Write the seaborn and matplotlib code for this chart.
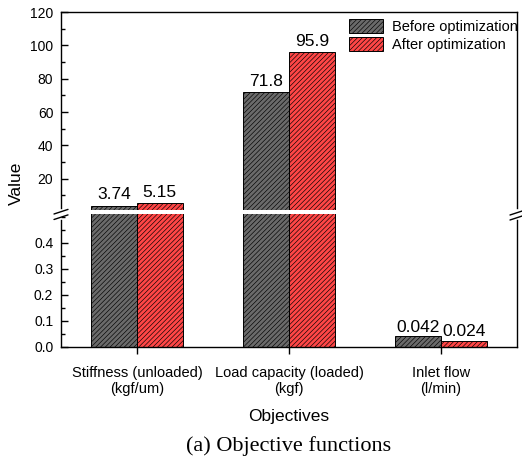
import numpy as np
import pandas as pd
import matplotlib
matplotlib.use("Agg")
import matplotlib.pyplot as plt
from matplotlib.lines import Line2D
from matplotlib.patches import Patch
from matplotlib.ticker import MultipleLocator, FormatStrFormatter
import seaborn as sns

# Data
objectives = ["Stiffness (unloaded)\n(kgf/um)", "Load capacity (loaded)\n(kgf)", "Inlet flow\n(l/min)"]
stages = ["Before optimization", "After optimization"]
before = [3.74, 71.8, 0.042]
after = [5.15, 95.9, 0.024]
colors = ["#6a6a6a", "#ff4646"]

df = pd.DataFrame({
    "Objective": objectives * 2,
    "Stage": [stages[0]] * len(objectives) + [stages[1]] * len(objectives),
    "Value": before + after,
})

sns.set_theme(style="ticks")
plt.rcParams["font.family"] = ["Liberation Sans", "DejaVu Sans"]
plt.rcParams["hatch.linewidth"] = 0.45
for key in ("text.color", "axes.labelcolor", "xtick.color", "ytick.color",
            "axes.edgecolor"):
    plt.rcParams[key] = "black"

HATCH = "///////"

W, H = 522, 462
fig = plt.figure(figsize=(W / 100, H / 100), dpi=100)


def box(l, t, r, b):
    return [l / W, 1 - b / H, (r - l) / W, (b - t) / H]


def fxy(x, y):
    return x / W, 1 - y / H


ax_top = fig.add_axes(box(61, 12, 517, 210))
ax_bot = fig.add_axes(box(61, 214, 517, 347))

for ax in (ax_top, ax_bot):
    sns.barplot(data=df, x="Objective", y="Value", hue="Stage", palette=colors,
                saturation=1, width=0.6, edgecolor="black", linewidth=0.7,
                legend=False, ax=ax)
    for p in ax.patches:
        p.set_hatch(HATCH)
    ax.set_xlim(-0.5, 2.5)
    ax.set_xlabel("")
    ax.set_ylabel("")
    for s in ax.spines.values():
        s.set_linewidth(1.0)
        s.set_color("black")
        s.set_visible(True)
    ax.tick_params(axis="y", which="major", direction="in", length=5, width=1,
                   labelsize=10, pad=5.5, colors="black")
    ax.tick_params(axis="y", which="minor", direction="in", length=3, width=1)
    ax.tick_params(axis="y", right=False)

# Upper segment
ax_top.set_ylim(1.2, 120)
ax_top.yaxis.set_major_locator(MultipleLocator(20))
ax_top.yaxis.set_minor_locator(MultipleLocator(10))
ax_top.spines["bottom"].set_visible(False)
ax_top.tick_params(axis="x", bottom=False, labelbottom=False)
ax_top.spines["left"].set_bounds(2.4, 120)
ax_top.spines["right"].set_bounds(2.4, 120)

# Lower segment
ax_bot.set_ylim(0, 0.51)
ax_bot.set_yticks(np.arange(0, 0.41, 0.1))
ax_bot.yaxis.set_minor_locator(MultipleLocator(0.05))
ax_bot.yaxis.set_major_formatter(FormatStrFormatter("%.1f"))
ax_bot.spines["top"].set_visible(False)
ax_bot.spines["left"].set_bounds(0, 0.487)
ax_bot.spines["right"].set_bounds(0, 0.487)
ax_bot.tick_params(axis="x", direction="out", length=5, width=1, labelsize=10.5,
                   pad=8.5, colors="black")

# Value labels
for cont, vals in zip(ax_top.containers, [before, after]):
    ax_top.bar_label(cont, labels=[f"{v:g}" if v > 1.2 else "" for v in vals],
                     padding=2.5, fontsize=12.5, color="black")
for cont, vals in zip(ax_bot.containers, [before, after]):
    ax_bot.bar_label(cont, labels=[f"{v:g}" if v < 0.51 else "" for v in vals],
                     padding=1, fontsize=12.5, color="black")

# Axis break marks
for cx, ys in [(61, (211.7, 217.2)), (517, (212.7, 217.7))]:
    for cy in ys:
        x0, y0 = fxy(cx - 7, cy + 2.3)
        x1, y1 = fxy(cx + 7, cy - 2.3)
        fig.add_artist(Line2D([x0, x1], [y0, y1], color="black", lw=1))

# Legend
handles = [Patch(facecolor=c, edgecolor="black", hatch=HATCH, linewidth=0.7) for c in colors]
ax_top.legend(handles=handles, labels=stages, loc="upper left",
              bbox_to_anchor=fxy(349, 19), bbox_transform=fig.transFigure,
              frameon=False, borderpad=0, borderaxespad=0, handlelength=2.33,
              handleheight=1.1, handletextpad=0.62, labelspacing=0.2, fontsize=10.5)

# Labels and caption
fig.text(*fxy(16.7, 183), "Value", rotation=90, ha="center", va="center", fontsize=12.5)
fig.text(*fxy(289, 417), "Objectives", ha="center", va="center", fontsize=12.5)
fig.text(*fxy(289, 446), "(a) Objective functions", ha="center", va="center",
         fontsize=16, family=["Liberation Serif", "DejaVu Serif"])

fig.savefig("out.png", dpi=100)
